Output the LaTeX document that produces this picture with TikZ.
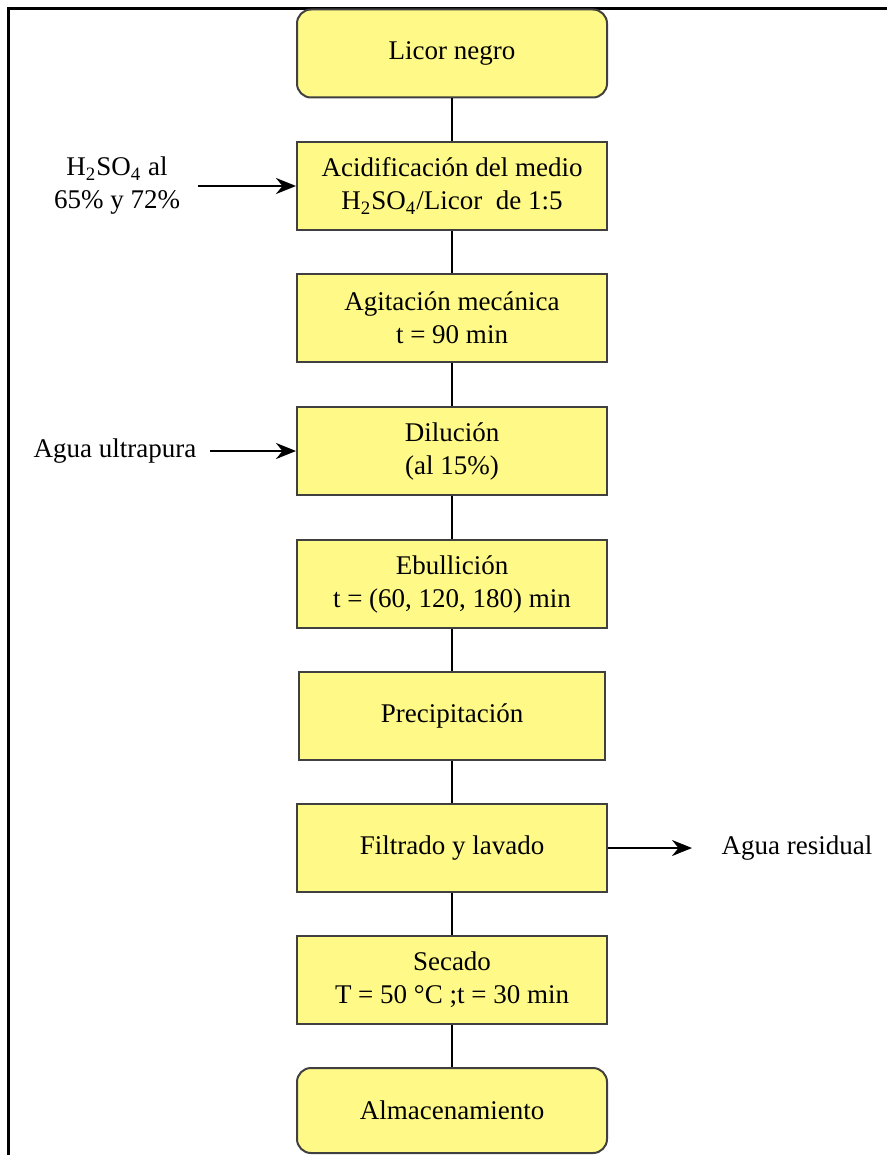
\documentclass[tikz,border=0pt]{standalone}
\usepackage{fontspec}
\setmainfont{Liberation Serif}
\usetikzlibrary{arrows.meta}
\definecolor{boxyellow}{RGB}{255,250,135}

\begin{document}
\begin{tikzpicture}[x=0.5pt,y=-0.5pt]
    \tikzstyle{every node}+=[font=\fontsize{13.5}{16.5}\selectfont, align=center]
    \tikzstyle{proc}=[draw=black!75, line width=1pt, fill=boxyellow, minimum width=155pt, minimum height=44pt, inner sep=0pt]
    \tikzstyle{term}=[proc, rounded corners=7pt]
    \tikzstyle{link}=[black, line width=0.8pt]
    \tikzstyle{feed}=[black, line width=1.2pt, -{Stealth[length=10pt,width=8pt]}]
    \useasboundingbox (0,0) rectangle (887,1155);
    \draw [black, line width=1.5pt] (8.5,1155) -- (8.5,8.5) -- (887,8.5);
    \node [term] (licor) at (452,53.5) {Licor negro};
    \node [proc] (acid) at (452,186) {Acidificación del medio\\H\textsubscript{2}SO\textsubscript{4}/Licor\ \ de 1:5};
    \node [proc] (agit) at (452,318) {Agitación mecánica\\t = 90 min};
    \node [proc] (dil) at (452,451) {Dilución\\(al 15\%)};
    \node [proc] (ebu) at (452,584) {Ebullición\\t = (60, 120, 180) min};
    \node [proc, minimum width=153pt] (prec) at (452,716) {Precipitación};
    \node [proc] (filt) at (452,848) {Filtrado y lavado};
    \node [proc] (sec) at (452,980) {Secado\\T = 50 °C ;t = 30 min};
    \node [term, minimum height=42.5pt] (alm) at (452,1110.5) {Almacenamiento};
    \draw [link] (licor) -- (acid);
    \draw [link] (acid) -- (agit);
    \draw [link] (agit) -- (dil);
    \draw [link] (dil) -- (ebu);
    \draw [link] (ebu) -- (prec);
    \draw [link] (prec) -- (filt);
    \draw [link] (filt) -- (sec);
    \draw [link] (sec) -- (alm);
    % entradas y salida
    \node (acido) at (117,186) {H\textsubscript{2}SO\textsubscript{4} al\\65\% y 72\%};
    \coordinate (acidoin) at (198,186);
    \draw [feed] (acidoin) -- (acid.west);
    \node (agua) at (115,451) {Agua ultrapura};
    \coordinate (aguain) at (210,451);
    \draw [feed] (aguain) -- (dil.west);
    \node (resid) at (797,848) {Agua residual};
    \coordinate (residout) at (692,848);
    \draw [feed] (filt.east) -- (residout);
\end{tikzpicture}
\end{document}
